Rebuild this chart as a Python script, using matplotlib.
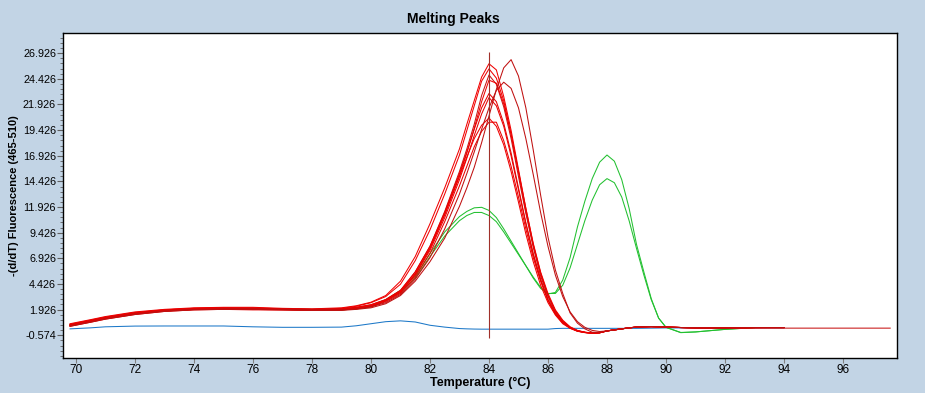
import numpy as np
import matplotlib
matplotlib.use('Agg')
import matplotlib.pyplot as plt
from matplotlib.ticker import FixedLocator

nan = np.nan

# temperature grid (deg C)
temp = [69.8, 70.5, 71, 72, 73, 74, 75, 76, 77, 78, 79, 79.5,
        80, 80.5, 81, 81.5, 82, 82.5, 83, 83.25, 83.5, 83.75, 84,
        84.25, 84.5, 84.75, 85, 85.25, 85.5, 85.75, 86, 86.25, 86.5, 86.75, 87, 87.25, 87.5, 87.75, 88,
        88.25, 88.5, 88.75, 89, 89.25, 89.5, 89.75, 90, 90.5, 91, 92, 93, 94, 95, 96, 97.6]

red_1 = [0.55, 0.95, 1.25, 1.7, 1.95, 2.1, 2.15, 2.15, 2.05, 2.0, 2.1, 2.3,
         2.65, 3.3, 4.7, 7.1, 10.3, 13.8, 17.6, 20.0, 22.3, 24.6, 25.9,
         25.3, 22.7, 19.4, 15.6, 11.8, 8.3, 5.5, 3.3, 1.8, 0.8, 0.2, -0.13, -0.28, -0.37, -0.33, -0.15,
         -0.05, 0.05, 0.15, 0.22, 0.25, 0.27, 0.25, 0.22, 0.18, 0.15, 0.12, 0.17, 0.18, nan, nan, nan]
red_2 = [0.5, 0.9, 1.2, 1.65, 1.9, 2.05, 2.1, 2.1, 2.0, 1.95, 2.05, 2.25,
         2.6, 3.2, 4.4, 6.7, 9.7, 13.2, 17.0, 19.4, 21.8, 24.2, 25.4,
         24.5, 22.3, 19.0, 15.3, 11.5, 8.2, 5.4, 3.3, 1.8, 0.8, 0.2, -0.13, -0.3, -0.38, -0.33, -0.15,
         -0.05, 0.05, 0.15, 0.22, 0.25, 0.27, 0.25, 0.22, 0.18, 0.15, 0.12, 0.17, 0.18, nan, nan, nan]
red_3 = [0.45, 0.85, 1.15, 1.6, 1.85, 2.0, 2.05, 2.05, 2.0, 1.95, 2.0, 2.15,
         2.4, 2.9, 3.8, 5.6, 8.1, 11.5, 15.4, 17.6, 20.0, 22.8, 24.8,
         23.9, 21.7, 18.6, 14.9, 11.3, 8.0, 5.2, 3.2, 1.7, 0.74, 0.18, -0.14, -0.3, -0.37, -0.33, -0.15,
         -0.05, 0.05, 0.15, 0.22, 0.25, 0.27, 0.25, 0.22, 0.18, 0.16, 0.15, 0.17, 0.12, 0.12, 0.12, 0.12]
red_4 = [0.4, 0.8, 1.1, 1.55, 1.85, 2.0, 2.05, 2.0, 1.95, 1.9, 1.95, 2.1,
         2.3, 2.8, 3.7, 5.4, 7.9, 11.2, 15.0, 17.2, 19.6, 22.2, 24.3,
         24.0, 22.0, 19.0, 15.4, 11.8, 8.4, 5.6, 3.5, 1.9, 0.9, 0.25, -0.1, -0.27, -0.36, -0.33, -0.15,
         -0.05, 0.05, 0.15, 0.22, 0.25, 0.27, 0.25, 0.22, 0.18, 0.15, 0.12, 0.17, 0.18, nan, nan, nan]
red_5 = [0.45, 0.85, 1.15, 1.6, 1.9, 2.05, 2.1, 2.05, 2.0, 1.95, 2.0, 2.15,
         2.4, 2.9, 3.8, 5.6, 8.1, 11.4, 15.2, 17.3, 19.5, 21.6, 23.0,
         22.2, 20.1, 17.2, 13.8, 10.4, 7.4, 4.9, 2.9, 1.6, 0.66, 0.15, -0.16, -0.3, -0.37, -0.33, -0.15,
         -0.05, 0.05, 0.15, 0.22, 0.25, 0.27, 0.25, 0.22, 0.18, 0.15, 0.12, 0.17, 0.18, nan, nan, nan]
red_6 = [0.4, 0.8, 1.1, 1.55, 1.8, 1.95, 2.0, 2.0, 1.95, 1.9, 1.95, 2.1,
         2.3, 2.8, 3.6, 5.3, 7.7, 10.9, 14.6, 16.7, 18.9, 21.0, 22.6,
         21.8, 19.8, 16.9, 13.6, 10.3, 7.3, 4.8, 2.9, 1.5, 0.64, 0.14, -0.16, -0.3, -0.37, -0.33, -0.15,
         -0.05, 0.05, 0.15, 0.22, 0.25, 0.27, 0.25, 0.22, 0.18, 0.15, 0.12, 0.17, 0.18, nan, nan, nan]
red_7 = [0.35, 0.75, 1.05, 1.5, 1.8, 1.95, 2.0, 1.95, 1.9, 1.85, 1.9, 2.05,
         2.3, 2.8, 3.7, 5.4, 7.9, 11.2, 14.9, 16.8, 18.6, 19.9, 20.6,
         19.8, 18.0, 15.4, 12.4, 9.3, 6.6, 4.3, 2.6, 1.4, 0.55, 0.1, -0.19, -0.32, -0.36, -0.33, -0.15,
         -0.05, 0.05, 0.15, 0.22, 0.25, 0.27, 0.25, 0.22, 0.18, 0.15, 0.12, 0.17, 0.18, nan, nan, nan]
red_8 = [0.3, 0.7, 1.0, 1.45, 1.75, 1.9, 1.95, 1.9, 1.9, 1.85, 1.9, 2.0,
         2.2, 2.7, 3.5, 5.1, 7.4, 10.5, 14.0, 15.9, 17.8, 19.3, 20.2,
         20.2, 18.4, 15.9, 12.9, 9.8, 7.0, 4.7, 2.8, 1.5, 0.65, 0.12, -0.17, -0.3, -0.36, -0.33, -0.15,
         -0.05, 0.05, 0.15, 0.22, 0.25, 0.27, 0.25, 0.22, 0.18, 0.15, 0.12, 0.17, 0.18, nan, nan, nan]
red_9 = [0.35, 0.75, 1.05, 1.5, 1.8, 1.95, 2.0, 2.0, 1.95, 1.9, 1.9, 2.0,
         2.2, 2.6, 3.4, 4.9, 7.0, 9.8, 13.2, 15.2, 17.3, 19.5, 21.6,
         23.3, 24.1, 23.5, 21.6, 18.6, 15.1, 11.4, 8.1, 5.3, 3.2, 1.7, 0.75, 0.2, -0.1, -0.21, -0.15,
         -0.05, 0.05, 0.15, 0.22, 0.25, 0.27, 0.25, 0.22, 0.18, 0.15, 0.12, 0.17, 0.18, nan, nan, nan]
red_10 = [0.3, 0.7, 1.0, 1.45, 1.75, 1.9, 1.95, 1.95, 1.9, 1.85, 1.85, 1.95,
          2.1, 2.5, 3.3, 4.7, 6.6, 8.9, 12.0, 13.8, 15.8, 18.2, 20.8,
          23.4, 25.5, 26.3, 24.7, 21.6, 17.5, 13.1, 9.0, 5.8, 3.5, 1.6, 0.6, 0.05, -0.28, -0.3, -0.15,
          -0.05, 0.05, 0.15, 0.22, 0.25, 0.27, 0.25, 0.22, 0.18, 0.15, 0.12, 0.17, 0.18, nan, nan, nan]

green_1 = [0.45, 0.85, 1.15, 1.6, 1.85, 2.0, 2.05, 2.05, 2.0, 1.95, 1.95, 2.05,
           2.3, 2.9, 3.8, 5.2, 7.4, 9.5, 11.0, 11.5, 11.85, 11.9, 11.6,
           10.9, 9.8, 8.6, 7.4, 6.2, 5.0, 4.0, 3.45, 3.6, 4.8, 7.0, 10.0, 12.5, 14.7, 16.3, 17.0,
           16.4, 14.6, 11.8, 8.3, 5.6, 3.0, 1.1, 0.2, -0.32, -0.25, 0.0, 0.17, nan, nan, nan, nan]
green_2 = [0.4, 0.8, 1.1, 1.55, 1.8, 1.95, 2.0, 2.0, 1.95, 1.9, 1.9, 2.0,
           2.2, 2.8, 3.6, 5.0, 7.1, 9.1, 10.6, 11.1, 11.4, 11.4, 11.1,
           10.5, 9.5, 8.4, 7.3, 6.2, 5.1, 4.1, 3.5, 3.5, 4.3, 6.0, 8.3, 10.6, 12.6, 14.1, 14.7,
           14.3, 12.9, 10.6, 7.9, 5.3, 2.9, 1.1, 0.2, -0.3, -0.25, 0.0, 0.17, nan, nan, nan, nan]

blue_1 = [0.05, 0.15, 0.25, 0.32, 0.33, 0.33, 0.33, 0.25, 0.2, 0.2, 0.22, 0.35,
          0.55, 0.75, 0.83, 0.72, 0.4, 0.22, 0.08, 0.05, 0.03, 0.02, 0.02,
          0.02, 0.02, 0.02, 0.02, 0.02, 0.02, 0.02, 0.02, 0.08, 0.1, 0.1, 0.1, 0.1, 0.1, 0.1, 0.1,
          0.1, 0.1, 0.1, 0.1, 0.11, 0.12, 0.13, 0.14, 0.14, 0.14, 0.14, 0.14, 0.14, nan, nan, nan]

reds = [red_1, red_2, red_3, red_4, red_5, red_6, red_7, red_8, red_9, red_10]
red_colors = ['#F00000', '#F00000', '#C81414', '#F00000', '#E80000',
              '#E80000', '#F00000', '#E80000', '#C01010', '#C01010']
greens = [green_1, green_2]

y_ticks = [-0.574, 1.926, 4.426, 6.926, 9.426, 11.926, 14.426, 16.926, 19.426, 21.926, 24.426, 26.926]
y_minor = [-2.574 + 0.5 * i for i in range(63)]
x_ticks = [70, 72, 74, 76, 78, 80, 82, 84, 86, 88, 90, 92, 94, 96]
cursor_t = 84

bg = '#C2D4E5'
fig = plt.figure(figsize=(9.25, 3.93), dpi=100, facecolor=bg)
ax = fig.add_axes([0.0681, 0.0891, 0.9016, 0.827])

ax.plot(temp, blue_1, color='#1C78C8', lw=0.75)
for g in greens:
    ax.plot(temp, g, color='#22C030', lw=0.75)
for r, c in zip(reds, red_colors):
    ax.plot(temp, r, color=c, lw=0.75)
ax.vlines(cursor_t, -0.87, 27.0, color='#A0302A', lw=0.8)

ax.set_xlim(69.56, 97.83)
ax.set_ylim(-2.79, 28.9)

sans = ['Liberation Sans', 'DejaVu Sans']
ax.set_yticks(y_ticks)
ax.set_yticklabels(['{:.3f}'.format(v) for v in y_ticks], family=sans, fontsize=7.8)
ax.yaxis.set_minor_locator(FixedLocator(y_minor))
ax.set_xticks(x_ticks)
ax.set_xticklabels([str(v) for v in x_ticks], family=sans, fontsize=8.5)
ax.tick_params(axis='y', which='major', length=4, width=0.8, color='#606060', pad=1)
ax.tick_params(axis='y', which='minor', length=2, width=0.6, color='#606060')
ax.tick_params(axis='x', which='major', length=3.5, width=0.8, color='#808080', pad=1)

for s in ax.spines.values():
    s.set_linewidth(1.0)
    s.set_color('black')

fig.text(453 / 925, 1 - 19.5 / 393, 'Melting Peaks', ha='center', va='center',
         fontsize=10, weight='bold', family=sans)
fig.text(14 / 925, 1 - 196 / 393, '-(d/dT) Fluorescence (465-510)', rotation=90,
         ha='center', va='center', fontsize=8, weight='bold', family=sans)
fig.text(480 / 925, 1 - 383 / 393, 'Temperature (°C)', ha='center', va='center',
         fontsize=9, weight='bold', family=sans)

plt.savefig('out.png', dpi=100, facecolor=bg)
